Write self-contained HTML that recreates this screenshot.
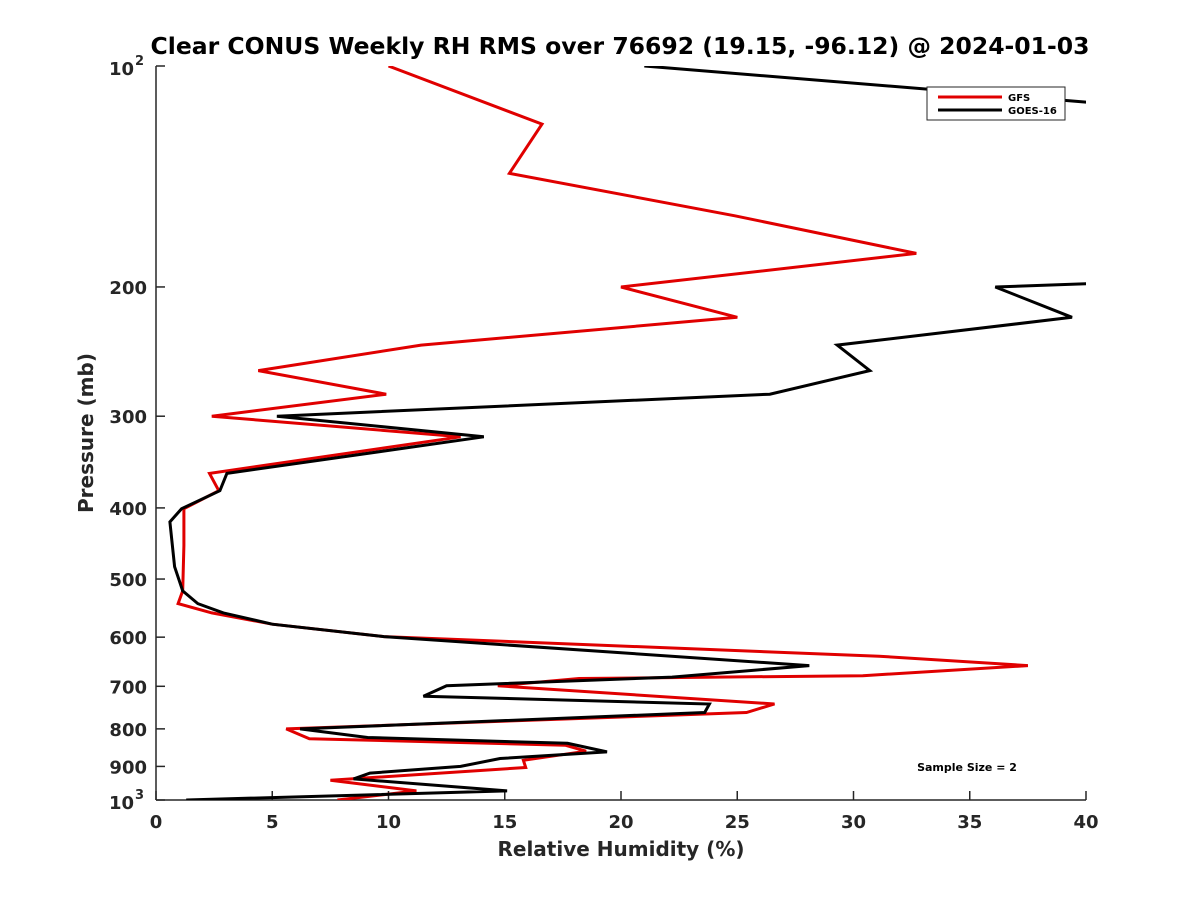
<!DOCTYPE html>
<html><head><meta charset="utf-8"><style>
body{margin:0;background:#fff;}
svg text{font-family:"DejaVu Sans","Liberation Sans",sans-serif;font-weight:bold;fill:#262626;}
</style></head><body>
<svg id="chart" width="1200" height="900" xmlns="http://www.w3.org/2000/svg">
<rect width="1200" height="900" fill="#fff"/>
<defs><clipPath id="plotclip"><rect x="156" y="66" width="930" height="734"/></clipPath></defs>
<text x="620" y="54" text-anchor="middle" font-size="23.5" style="fill:#000">Clear CONUS Weekly RH RMS over 76692 (19.15, -96.12) @ 2024-01-03</text>
<g id="axes"></g>
<g id="series" clip-path="url(#plotclip)"></g>
<text x="621" y="856" text-anchor="middle" font-size="20">Relative Humidity (%)</text>
<text transform="translate(93,433) rotate(-90)" text-anchor="middle" font-size="20">Pressure (mb)</text>
<g>
<rect x="927" y="87" width="138" height="33" fill="#fff" stroke="#262626" stroke-width="1"/>
<line x1="938" y1="97" x2="1002" y2="97" stroke="#e00000" stroke-width="3"/>
<text x="1008" y="101" font-size="10" style="fill:#000">GFS</text>
<line x1="938" y1="110" x2="1002" y2="110" stroke="#000" stroke-width="3"/>
<text x="1008" y="114" font-size="10" style="fill:#000">GOES-16</text>
</g>
<text x="967" y="771" text-anchor="middle" font-size="11" style="fill:#000">Sample Size = 2</text>
</svg>
<script>
const gfsP=[100,120,140,160,180,200,220,240,260,280,300,320,359,379,401,450,519,540,556,576,599,637,656,677,683,699,740,760,800,825,842,858,883,903,940,972,1000];
const gfsRH=[10.0,16.6,15.2,24.9,32.7,20.0,25.0,11.4,4.4,9.9,2.4,13.1,2.3,2.7,1.2,1.2,1.15,0.95,2.4,5.0,9.8,31.1,37.5,30.4,18.2,14.7,26.6,25.4,5.6,6.6,17.6,18.5,15.8,15.9,7.5,11.2,7.8];
const goesP=[100,112,150,198,200,220,240,260,280,300,320,359,379,401,418,481,519,540,556,576,599,656,680,699,722,740,760,800,822,837,860,878,900,919,936,972,1000];
const goesRH=[21.0,40,60,40,36.1,39.4,29.3,30.7,26.4,5.2,14.1,3.05,2.75,1.1,0.6,0.8,1.15,1.8,2.9,5.0,9.8,28.1,22.2,12.5,11.5,23.8,23.6,6.2,9.1,17.7,19.4,14.8,13.1,9.2,8.5,15.1,1.3];
const xTicks=[0,5,10,15,20,25,30,35,40];
const yTicks=[100,200,300,400,500,600,700,800,900,1000];
const yTickLabels=["10|2","200","300","400","500","600","700","800","900","10|3"];
const X0=156,X1=1086,Y0=66,Y1=800,NS="http://www.w3.org/2000/svg";
function xs(v){return X0+(v-0)/(40-0)*(X1-X0);}
function ys(p){return Y0+Math.log10(p/100)*(Y1-Y0);}
function mk(t,a,parent){const e=document.createElementNS(NS,t);for(const k in a)e.setAttribute(k,a[k]);parent.appendChild(e);return e;}
const axes=document.getElementById('axes');
const ya=mk('line',{x1:X0,y1:Y0,x2:X0,y2:Y1,stroke:'#262626','stroke-width':1.5},axes);


const xa=mk('line',{x1:X0,y1:Y1,x2:X1,y2:Y1,stroke:'#262626','stroke-width':1.5},axes);


xTicks.forEach(v=>{
  const t=mk('line',{x1:xs(v),y1:Y1,x2:xs(v),y2:Y1-9,stroke:'#262626','stroke-width':1.5},axes);
  
  
  const l=mk('text',{x:xs(v),y:Y1+28,'text-anchor':'middle','font-size':18},axes);
  l.textContent=v;
  
  
});
yTicks.forEach((p,i)=>{
  const t=mk('line',{x1:X0,y1:ys(p),x2:X0+9,y2:ys(p),stroke:'#262626','stroke-width':1.5},axes);
  
  
  const lab=yTickLabels[i];
  if(lab.indexOf('|')>=0){
    const parts=lab.split('|');
    const l=mk('text',{x:X0-22,y:ys(p)+9,'text-anchor':'end','font-size':18},axes);
    l.textContent=parts[0];
    
    
    const s=mk('text',{x:X0-12,y:ys(p)-1,'text-anchor':'end','font-size':13},axes);
    s.textContent=parts[1];
    
    
  } else {
    const l=mk('text',{x:X0-9,y:ys(p)+7,'text-anchor':'end','font-size':18},axes);
    l.textContent=lab;
    
    
  }
});
const ser=document.getElementById('series');
function line(P,V,col,name){
  const pts=P.map((p,i)=>xs(V[i]).toFixed(1)+','+ys(p).toFixed(1)).join(' ');
  const pl=mk('polyline',{points:pts,fill:'none',stroke:col,'stroke-width':3,'stroke-linejoin':'miter'},ser);
  
  
}
line(gfsP,gfsRH,'#e00000','gfs-line');
line(goesP,goesRH,'#000','goes16-line');
</script>
</body></html>
